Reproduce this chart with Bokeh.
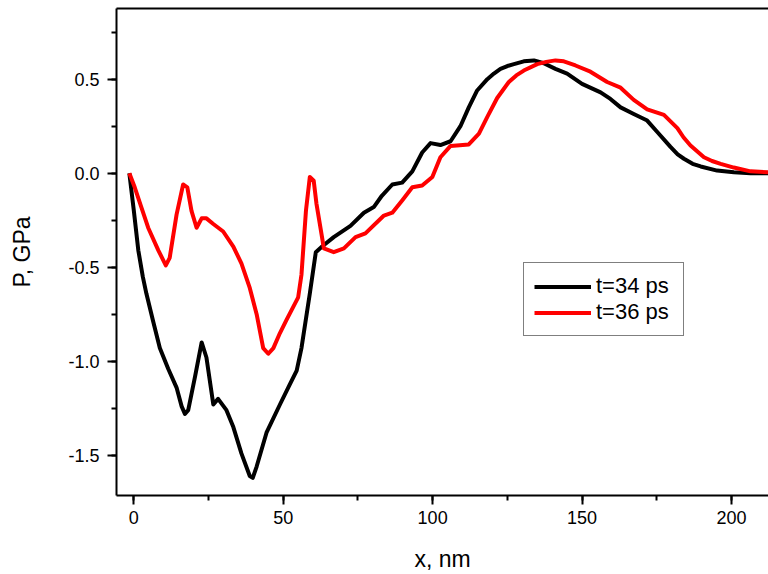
from bokeh.plotting import figure
from bokeh.models import (Range1d, LinearAxis, SingleIntervalTicker, FixedTicker,
                          PrintfTickFormatter, Legend, LegendItem)
from bokeh.embed import file_html
from bokeh.resources import INLINE

x34 = [-1.5, 0, 1.5, 3, 4.2, 6.5, 8.7, 11.5, 14.3, 16, 17.1, 18.2, 20.5, 22.7, 24.3,
       26.6, 28.2, 31.0, 33.3, 36.0, 38.8, 39.8, 41.1, 44.4, 48.9, 52, 54.5, 56.1,
       58.9, 60.9, 63, 66.9, 72.5, 77.0, 80.3, 83, 86.5, 89.8, 93.2, 96.5, 99.3,
       102.6, 106, 109.3, 112.1, 114.9, 118.3, 120.5, 122.7, 125.0, 127.2, 130.5,
       133.9, 137.2, 141.1, 145.0, 150.0, 156.2, 159.5, 162.9, 167.3, 171.8, 175.7,
       179.6, 182.0, 184.1, 187.0, 189.7, 195.2, 200.8, 206.4, 212.4]
p34 = [0.0, -0.2, -0.41, -0.55, -0.64, -0.79, -0.93, -1.04, -1.14, -1.24, -1.28,
       -1.26, -1.08, -0.90, -0.98, -1.23, -1.20, -1.26, -1.35, -1.49, -1.61, -1.62,
       -1.56, -1.38, -1.23, -1.13, -1.05, -0.93, -0.64, -0.42, -0.39, -0.34, -0.28,
       -0.21, -0.18, -0.12, -0.06, -0.05, 0.01, 0.11, 0.16, 0.15, 0.17, 0.25, 0.35,
       0.44, 0.50, 0.53, 0.555, 0.57, 0.58, 0.595, 0.60, 0.585, 0.555, 0.53, 0.475,
       0.43, 0.395, 0.35, 0.315, 0.28, 0.21, 0.14, 0.10, 0.077, 0.05, 0.036, 0.014,
       0.005, 0.0, 0.0]

x36 = [-1.5, 0.3, 2.5, 4.8, 8.2, 10.7, 12.0, 14.3, 16.5, 17.9, 19.3, 21.0, 22.7,
       24.3, 26.6, 29.9, 33.3, 36.0, 38.8, 41.1, 43.3, 45.0, 46.7, 48.9, 51.1, 55.0,
       56.1, 57.6, 58.9, 60.2, 61.1, 63.6, 66.9, 70.3, 74.2, 77.5, 83.7, 86.5, 89.8,
       93.2, 96.5, 99.9, 102.6, 106.0, 112.1, 115.5, 118.3, 121.6, 125.5, 128.0,
       130.5, 135.0, 138.0, 141.1, 143.9, 147.8, 152.8, 158.4, 162.9, 167.3, 171.8,
       177.4, 181.9, 184.0, 186.3, 190.8, 193.5, 196.4, 200.8, 206.4, 212.4]
p36 = [0.0, -0.075, -0.18, -0.29, -0.41, -0.49, -0.45, -0.22, -0.06, -0.075, -0.2,
       -0.29, -0.24, -0.24, -0.27, -0.31, -0.39, -0.48, -0.61, -0.75, -0.93, -0.96,
       -0.93, -0.85, -0.78, -0.66, -0.54, -0.20, -0.02, -0.04, -0.16, -0.40, -0.42,
       -0.40, -0.34, -0.32, -0.225, -0.21, -0.145, -0.075, -0.065, -0.02, 0.085,
       0.145, 0.153, 0.21, 0.30, 0.40, 0.485, 0.52, 0.546, 0.58, 0.592, 0.60, 0.595,
       0.573, 0.54, 0.485, 0.455, 0.39, 0.34, 0.31, 0.24, 0.19, 0.147, 0.085, 0.065,
       0.05, 0.03, 0.01, 0.005]

labels = ["t=34 ps", "t=36 ps"]
x_label = "x, nm"
y_label = "P, GPa"

FONT = "Liberation Sans"

p = figure(width=768, height=574, output_backend="svg", toolbar_location=None,
           x_range=Range1d(-5.8, 212.4), y_range=Range1d(-1.714, 0.876),
           x_axis_location=None, y_axis_location=None,
           min_border_left=116, min_border_right=0, min_border_top=8,
           min_border_bottom=79)
p.outline_line_color = None
p.xgrid.visible = False
p.ygrid.visible = False
p.background_fill_color = "white"
p.border_fill_color = "white"

xa = LinearAxis(ticker=SingleIntervalTicker(interval=50, num_minor_ticks=2),
                formatter=PrintfTickFormatter(format="%d"), axis_label=x_label)
ya = LinearAxis(ticker=SingleIntervalTicker(interval=0.5, num_minor_ticks=2),
                formatter=PrintfTickFormatter(format="%.1f"), axis_label=y_label)
for ax in (xa, ya):
    ax.axis_line_width = 2
    ax.axis_line_color = "black"
    ax.major_tick_line_width = 2
    ax.minor_tick_line_width = 2
    ax.major_tick_out = 9
    ax.major_tick_in = 0
    ax.minor_tick_out = 5
    ax.minor_tick_in = 0
    ax.major_label_text_font = FONT
    ax.major_label_text_font_size = "18px"
    ax.major_label_text_color = "black"
    ax.axis_label_text_font = FONT
    ax.axis_label_text_font_size = "23px"
    ax.axis_label_text_font_style = "normal"
    ax.axis_label_text_color = "black"
xa.major_label_standoff = 6
xa.axis_label_standoff = 19
ya.major_label_standoff = 8
ya.axis_label_standoff = 30
p.add_layout(xa, "below")
p.add_layout(ya, "left")

top = LinearAxis(ticker=FixedTicker(ticks=[]), axis_line_width=2,
                 axis_line_color="black", major_tick_out=0, minor_tick_out=0,
                 major_tick_in=0, minor_tick_in=0, major_label_standoff=0)
p.add_layout(top, "above")

r34 = p.line(x34, p34, line_color="black", line_width=4, line_join="round")
r36 = p.line(x36, p36, line_color="red", line_width=4, line_join="round")

legend = Legend(items=[LegendItem(label=labels[0], renderers=[r34]),
                       LegendItem(label=labels[1], renderers=[r36])],
                location=(407, 159), padding=10, spacing=0, margin=0,
                glyph_width=57, glyph_height=25, label_height=25, label_width=77,
                label_standoff=5, label_text_font=FONT,
                label_text_font_size="22px", label_text_color="black",
                border_line_color="black", border_line_width=1.5,
                background_fill_alpha=1.0)
p.add_layout(legend, "center")

open("out.html", "w").write(file_html(p, INLINE))
